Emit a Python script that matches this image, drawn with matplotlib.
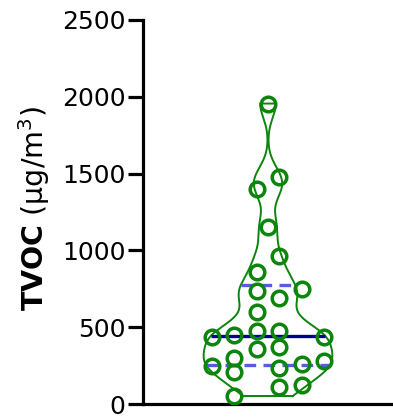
import numpy as np
import matplotlib
matplotlib.use("Agg")
import matplotlib.pyplot as plt

# data (µg/m3) and horizontal scatter column (in column-steps)
values = [1956, 1479, 1397, 1154, 963, 857, 748, 737, 688, 601,
          438, 449, 477, 477, 438, 356, 369, 297, 249, 210,
          232, 258, 282, 113, 124, 52]
columns = [0, 0.5, -0.5, 0, 0.5, -0.5, 1.5, -0.5, 0.5, -0.5,
           -2.5, -1.5, -0.5, 0.5, 2.5, -0.5, 0.5, -1.5, -2.5, -1.5,
           0.5, 1.5, 2.5, 0.5, 1.5, -1.5]
yticks = [0, 500, 1000, 1500, 2000, 2500]

vals = np.array(values, dtype=float)
cols = np.array(columns, dtype=float)

GREEN = "#0c850c"
NAVY = "#00008f"
LBLUE = "#5a5ae0"

fig = plt.figure(figsize=(3.93, 4.18), dpi=100)
ax = fig.add_axes([143/393, 1-404/418, 1-143/393, 384/418])

# KDE violin, truncated at min/max
bw = 92.0
def kde(y):
    y = np.atleast_1d(y)
    return np.exp(-0.5*((y[:, None]-vals[None, :])/bw)**2).sum(axis=1)

ys = np.linspace(vals.min(), vals.max(), 600)
dens = kde(ys)
halfmax = 0.515
scale = halfmax/dens.max()
hw = dens*scale
px = np.concatenate([hw, -hw[::-1], [hw[0]]])
py = np.concatenate([ys, ys[::-1], [ys[0]]])
ax.plot(px, py, color=GREEN, lw=1.4, zorder=2, solid_joinstyle="round")

# median and quartiles
q1, med, q3 = np.percentile(vals, [25, 50, 75], method="weibull")
for q, c, ls in [(med, NAVY, "-"), (q1, LBLUE, (0, (3.5, 2.2))), (q3, LBLUE, (0, (3.5, 2.2)))]:
    w = kde(q)[0]*scale
    ax.plot([-w, w], [q, q], color=c, lw=2.4, ls=ls, zorder=3, solid_capstyle="butt")

# points
step = 0.18
ax.plot(cols*step, vals, ls="none", marker="o", ms=10.5, mfc="none",
        mec=GREEN, mew=2.5, zorder=4)

ax.set_xlim(-1, 1)
ax.set_ylim(0, 2500)
ax.set_yticks(yticks)
ax.set_yticklabels([str(t) for t in yticks])
ax.set_xticks([])
for s in ["top", "right"]:
    ax.spines[s].set_visible(False)
for s in ["left", "bottom"]:
    ax.spines[s].set_linewidth(2.3)
    ax.spines[s].set_color("black")
    ax.spines[s].set_capstyle("projecting")
ax.tick_params(axis="y", length=10.5, width=2.3, pad=2, labelsize=18)
for lab in ax.get_yticklabels():
    lab.set_family("DejaVu Sans")

fig.text(34/393, 1-209/418, r"$\mathbf{TVOC}$ (μg/m$^3$)", rotation=90,
         ha="center", va="center", fontsize=20.5, family="DejaVu Sans")

fig.savefig("out.png", dpi=100)
